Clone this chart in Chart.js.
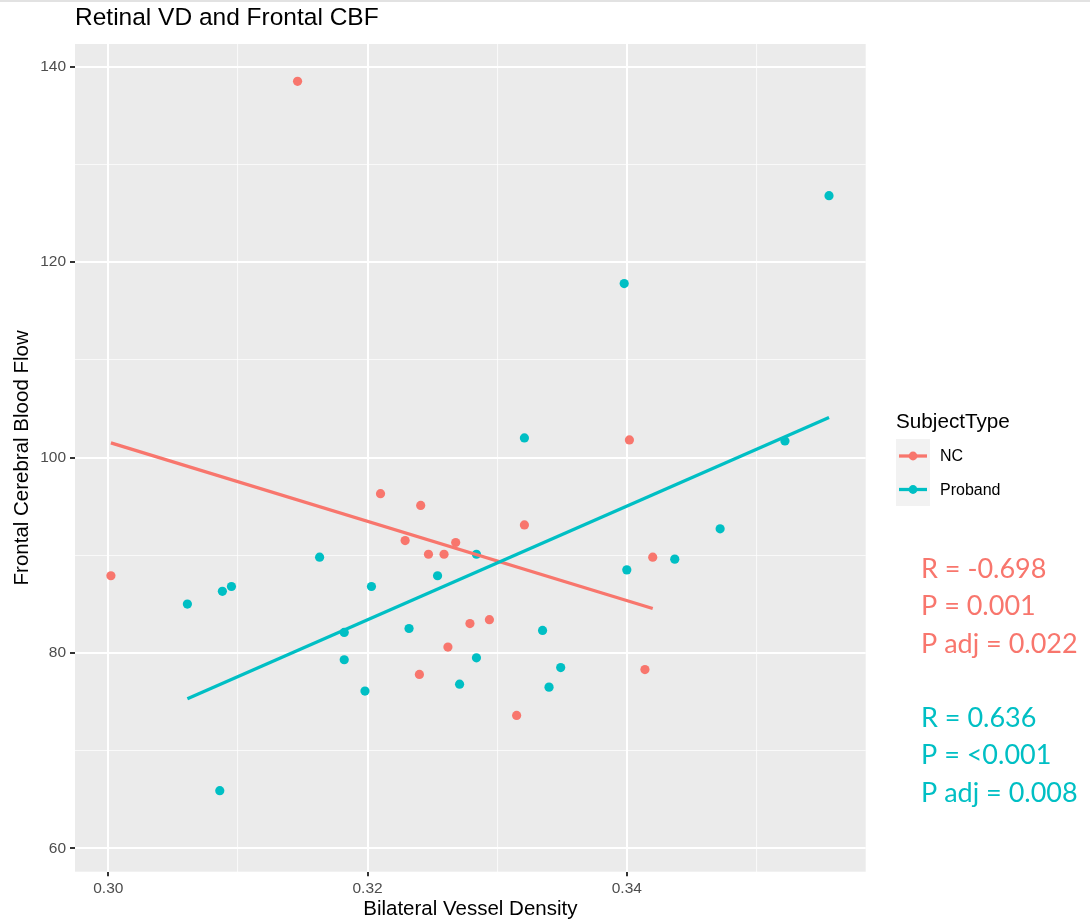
<!DOCTYPE html>
<html>
<head>
<meta charset="utf-8">
<script src="https://cdn.jsdelivr.net/npm/chart.js@4/dist/chart.umd.min.js"></script>
<style>
  html, body { margin: 0; padding: 0; background: #ffffff; }
  #wrap { position: relative; width: 1090px; height: 924px; }
</style>
</head>
<body>
<div id="wrap"><canvas id="chart" width="1090" height="924"></canvas></div>
<script>
// Bilateral vessel density (x) vs frontal cerebral blood flow (y), by subject type
const ncDensity   = [0.3146, 0.3002, 0.3210, 0.3241, 0.3229, 0.3268, 0.3247, 0.3259,
                     0.3279, 0.3262, 0.3240, 0.3402, 0.3321, 0.3420, 0.3294, 0.3414, 0.3315];
const ncFlow      = [138.5, 87.9, 96.3, 95.1, 91.5, 91.3, 90.1, 90.1,
                     83.0, 80.6, 77.8, 101.8, 93.1, 89.8, 83.4, 78.3, 73.6];

const probandDensity = [0.3556, 0.3398, 0.3086, 0.3061, 0.3088, 0.3095, 0.3163, 0.3284,
                        0.3203, 0.3254, 0.3182, 0.3232, 0.3182, 0.3284, 0.3271, 0.3198,
                        0.3321, 0.3522, 0.3472, 0.3437, 0.3400, 0.3335, 0.3349, 0.3340];
const probandFlow    = [126.8, 117.8, 65.9, 85.0, 86.3, 86.8, 89.8, 90.1,
                        86.8, 87.9, 82.1, 82.5, 79.3, 79.5, 76.8, 76.1,
                        102.0, 101.7, 92.7, 89.6, 88.5, 82.3, 78.5, 76.5];

// Fitted linear trend endpoints for each group
const ncFitX      = [0.3002, 0.3420];
const ncFitY      = [101.5, 84.55];
const probandFitX = [0.3061, 0.3556];
const probandFitY = [75.3, 104.1];

// Axis breaks
const xMajorTicks = [0.30, 0.32, 0.34];
const xMinorTicks = [0.31, 0.33, 0.35];
const yMajorTicks = [60, 80, 100, 120, 140];
const yMinorTicks = [70, 90, 110, 130];

// Correlation summaries shown beside the panel
const ncStats      = ['R = -0.698', 'P = 0.001', 'P adj = 0.022'];
const probandStats = ['R = 0.636', 'P = <0.001', 'P adj = 0.008'];

const chartTitle  = 'Retinal VD and Frontal CBF';
const xAxisTitle  = 'Bilateral Vessel Density';
const yAxisTitle  = 'Frontal Cerebral Blood Flow';
const legendTitle = 'SubjectType';
const groupNames  = ['NC', 'Proband'];

const RED  = '#F8766D';
const CYAN = '#00BFC4';
const SANS = '"Liberation Sans", Arial, Helvetica, sans-serif';

const toPoints = (xs, ys) => xs.map((x, i) => ({ x: x, y: ys[i] }));
const isMajor = (list, v) => list.some(t => Math.abs(t - v) < 1e-9);

// Grey panel background
const panelBg = {
  id: 'panelBg',
  beforeDraw(chart) {
    const { ctx, chartArea: a } = chart;
    ctx.save();
    ctx.fillStyle = '#EBEBEB';
    ctx.fillRect(a.left, a.top, a.right - a.left, a.bottom - a.top);
    ctx.restore();
  }
};

// Title, axis titles, legend and annotation text
const decorations = {
  id: 'decorations',
  afterDraw(chart) {
    const { ctx, chartArea: a } = chart;
    ctx.save();

    // faint rule along the top edge
    ctx.fillStyle = '#E2E2E2';
    ctx.fillRect(0, 0, chart.width, 2);

    ctx.fillStyle = '#000000';
    ctx.textBaseline = 'middle';

    ctx.font = '24.5px ' + SANS;
    ctx.textAlign = 'left';
    ctx.fillText(chartTitle, 75, 18);

    ctx.font = '20.5px ' + SANS;
    ctx.textAlign = 'center';
    ctx.fillText(xAxisTitle, (a.left + a.right) / 2, 909);

    ctx.save();
    ctx.translate(22, (a.top + a.bottom) / 2);
    ctx.rotate(-Math.PI / 2);
    ctx.fillText(yAxisTitle, 0, 0);
    ctx.restore();

    // legend
    ctx.textAlign = 'left';
    ctx.font = '20.7px ' + SANS;
    ctx.fillText(legendTitle, 896, 422);

    ctx.fillStyle = '#F2F2F2';
    ctx.fillRect(896, 439, 34, 67);

    const rowsY = [456, 489.5];
    groupNames.forEach((name, i) => {
      const ds = chart.data.datasets.find(d => d.type === 'scatter' && d.label === name);
      const y = rowsY[i];
      ctx.strokeStyle = ds.backgroundColor;
      ctx.lineWidth = 3.3;
      ctx.beginPath();
      ctx.moveTo(899, y);
      ctx.lineTo(927, y);
      ctx.stroke();
      ctx.fillStyle = ds.backgroundColor;
      ctx.beginPath();
      ctx.arc(913, y, 4.4, 0, Math.PI * 2);
      ctx.fill();
      ctx.fillStyle = '#000000';
      ctx.font = '16px ' + SANS;
      ctx.fillText(ds.label, 940, y + 1);
    });

    // correlation statistics
    ctx.font = '27px Lato, "Open Sans", sans-serif';
    ctx.fillStyle = RED;
    ncStats.forEach((s, i) => ctx.fillText(s, 921, 569 + i * 37.5));
    ctx.fillStyle = CYAN;
    probandStats.forEach((s, i) => ctx.fillText(s, 921, 718 + i * 37.5));

    ctx.restore();
  }
};

const gridColor = (major) => (ctx) =>
  isMajor(major, ctx.tick ? ctx.tick.value : NaN) ? '#FFFFFF' : 'rgba(255,255,255,0.7)';
const gridWidth = (major) => (ctx) =>
  isMajor(major, ctx.tick ? ctx.tick.value : NaN) ? 2 : 1.1;
const tickColor = (major) => (ctx) =>
  isMajor(major, ctx.tick ? ctx.tick.value : NaN) ? '#333333' : 'rgba(0,0,0,0)';

new Chart(document.getElementById('chart'), {
  type: 'scatter',
  data: {
    datasets: [
      {
        type: 'line', label: groupNames[1] + ' fit', data: toPoints(probandFitX, probandFitY),
        borderColor: CYAN, borderWidth: 3.3, pointRadius: 0, fill: false, order: 0
      },
      {
        type: 'line', label: groupNames[0] + ' fit', data: toPoints(ncFitX, ncFitY),
        borderColor: RED, borderWidth: 3.3, pointRadius: 0, fill: false, order: 1
      },
      {
        type: 'scatter', label: groupNames[1], data: toPoints(probandDensity, probandFlow),
        backgroundColor: CYAN, borderWidth: 0, pointRadius: 4.6, order: 2
      },
      {
        type: 'scatter', label: groupNames[0], data: toPoints(ncDensity, ncFlow),
        backgroundColor: RED, borderWidth: 0, pointRadius: 4.6, order: 3
      }
    ]
  },
  options: {
    responsive: false,
    animation: false,
    events: [],
    layout: { padding: { left: 0, top: 44, right: 224.3, bottom: 0 } },
    plugins: {
      legend: { display: false },
      tooltip: { enabled: false },
      title: { display: false }
    },
    scales: {
      x: {
        type: 'linear',
        min: 0.29743, max: 0.35843,
        afterFit(scale) { scale.height = 52.3; },
        afterBuildTicks(scale) {
          scale.ticks = xMajorTicks.concat(xMinorTicks).sort((p, q) => p - q).map(v => ({ value: v }));
        },
        ticks: {
          autoSkip: false, maxRotation: 0, padding: 3,
          color: '#4D4D4D', font: { family: SANS, size: 15.5 },
          callback: (v) => isMajor(xMajorTicks, v) ? v.toFixed(2) : ''
        },
        grid: {
          color: gridColor(xMajorTicks), lineWidth: gridWidth(xMajorTicks),
          tickColor: tickColor(xMajorTicks), tickWidth: 2, tickLength: 4.5, drawTicks: true
        },
        border: { display: false }
      },
      y: {
        type: 'linear',
        min: 57.61, max: 142.32,
        afterFit(scale) { scale.width = 75; },
        afterBuildTicks(scale) {
          scale.ticks = yMajorTicks.concat(yMinorTicks).sort((p, q) => p - q).map(v => ({ value: v }));
        },
        ticks: {
          autoSkip: false, padding: 4,
          color: '#4D4D4D', font: { family: SANS, size: 15.5 },
          callback: (v) => isMajor(yMajorTicks, v) ? String(v) : ''
        },
        grid: {
          color: gridColor(yMajorTicks), lineWidth: gridWidth(yMajorTicks),
          tickColor: tickColor(yMajorTicks), tickWidth: 2, tickLength: 5, drawTicks: true
        },
        border: { display: false }
      }
    }
  },
  plugins: [panelBg, decorations]
});
</script>
</body>
</html>
